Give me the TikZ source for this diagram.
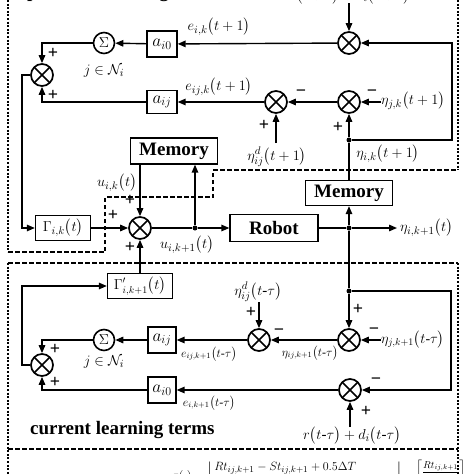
\documentclass[tikz,border=0pt]{standalone}
\usepackage{amsmath}
\usepackage{fontspec}
\setmainfont{Liberation Serif}
\usetikzlibrary{arrows.meta}
\begin{document}
\begin{tikzpicture}[x=1pt,y=-1pt,
 ln/.style={line width=1.4pt},
 arr/.style={line width=1.4pt,-{Triangle[length=8pt,width=6.5pt]}},
 otim/.style={circle,draw,line width=1.7pt,minimum size=22pt,inner sep=0pt,
   path picture={\draw[line width=1.7pt] (path picture bounding box.north west)--(path picture bounding box.south east)
   (path picture bounding box.north east)--(path picture bounding box.south west);}},
 sig/.style={circle,draw,line width=1.6pt,minimum size=21pt,inner sep=0pt,font=\fontsize{15}{18}\selectfont},
 blk/.style={draw,line width=1.3pt,inner sep=0pt,font=\fontsize{17}{20}\selectfont},
 bold/.style={font=\fontsize{19}{22}\selectfont\bfseries,inner sep=0pt},
 lab/.style={font=\fontsize{15}{22}\selectfont,inner sep=0pt},
 slab/.style={font=\fontsize{12}{16}\selectfont,inner sep=0pt},
 sgn/.style={font=\fontsize{18}{18}\selectfont\bfseries,inner sep=0pt},
 dot/.style={circle,fill,inner sep=0pt,minimum size=5pt},
 dsh/.style={line width=1.8pt,dash pattern=on 4.5pt off 2.5pt},
 dtt/.style={line width=2.6pt,dash pattern=on 2pt off 1.6pt},
]
\useasboundingbox (0,0) rectangle (474,474);
\clip (0,0) rectangle (474,474);

% frames
\draw[dtt] (8,0) -- (8,252);
\draw[dtt] (8,263) -- (8,474);
\draw[dtt] (458,0) -- (458,170);
\draw[dtt] (458,263) -- (458,474);
\draw[dsh] (8,252) -- (105,252) -- (105,197) -- (213,197) -- (213,170) -- (458,170);
\draw[dsh] (8,263) -- (458,263);
\draw[dsh] (8,449) -- (458,449);

% top texts (cut by the edge)
\node[bold,anchor=base west] (ptitle) at (27,-3) {previous learning terms};
\node[lab,anchor=base] (rtop) at (350,-1) {$r\bigl(t+1\bigr)+d_i\bigl(t+1\bigr)$};

% upper nodes
\node[otim] (X1) at (349,43) {};
\node[sig] (S1) at (104,43) {$\Sigma$};
\node[blk,minimum width=30pt,minimum height=26pt] (A10) at (162,44) {$a_{i0}$};
\node[otim] (XL1) at (42,75) {};
\node[blk,minimum width=30pt,minimum height=23pt] (Aij1) at (162,102) {$a_{ij}$};
\node[otim] (X2) at (276,102) {};
\node[otim] (X3) at (349,102) {};
\node[dot] (D1) at (349,140) {};
\node[blk,bold,minimum width=87pt,minimum height=25pt] (Mem2) at (349,193) {Memory};
\node[blk,bold,minimum width=87pt,minimum height=26pt] (Mem1) at (174,151) {Memory};
\node[otim] (XU) at (140,228) {};
\node[blk,minimum width=55pt,minimum height=25pt,font=\fontsize{15}{20}\selectfont] (G) at (63,228) {$\Gamma_{i,k}\bigl(t\bigr)$};
\node[blk,bold,minimum width=88pt,minimum height=27pt] (Robot) at (274,228) {Robot};
\node[dot] (D2) at (195,228) {};
\node[dot] (D3) at (349,228) {};
\coordinate (c8) at (397,228);
\node[blk,minimum width=65pt,minimum height=25pt,font=\fontsize{14}{18}\selectfont] (Gp) at (140,286) {$\Gamma'_{i,k+1}\bigl(t\bigr)$};

% lower nodes
\node[otim] (XL2) at (42,365) {};
\node[sig] (S2) at (104,340) {$\Sigma$};
\node[blk,minimum width=28pt,minimum height=26pt] (Aij2) at (162,340) {$a_{ij}$};
\node[blk,minimum width=28pt,minimum height=26pt] (A102) at (162,390) {$a_{i0}$};
\node[otim] (X4) at (259,340) {};
\node[otim] (X5) at (349,340) {};
\node[dot] (D4) at (349,291) {};
\node[otim] (X6) at (350,390) {};

% labels
\node[lab] (le1) at (219,27) {$e_{i,k}\bigl(t+1\bigr)$};
\node[lab] (le2) at (219,87) {$e_{ij,k}\bigl(t+1\bigr)$};
\node[lab] (jn1) at (104,71) {$j\in\mathcal{N}_i$};
\node[lab,anchor=west] (etajk) at (381,101) {$\eta_{j,k}\bigl(t+1\bigr)$};
\node[lab] (etad1) at (277,157) {$\eta^{d}_{ij}\bigl(t+1\bigr)$};
\node[lab] (etaik) at (388,154) {$\eta_{i,k}\bigl(t+1\bigr)$};
\node[lab,anchor=west] (etaout) at (400,228) {$\eta_{i,k+1}\bigl(t\bigr)$};
\node[lab] (uik) at (117,183) {$u_{i,k}\bigl(t\bigr)$};
\node[lab] (uik1) at (187,245) {$u_{i,k+1}\bigl(t\bigr)$};
\node[lab] (etad2) at (258,292) {$\eta^{d}_{ij}\bigl(t\mbox{-}\tau\bigr)$};
\node[lab,anchor=west,font=\fontsize{14}{20}\selectfont] (etajk1) at (381,340) {$\eta_{j,k+1}\bigl(t\mbox{-}\tau\bigr)$};
\node[slab] (etaij1) at (310,353) {$\eta_{ij,k+1}\bigl(t\mbox{-}\tau\bigr)$};
\node[slab] (le3) at (209,354) {$e_{ij,k+1}\bigl(t\mbox{-}\tau\bigr)$};
\node[slab] (le4) at (209,403) {$e_{i,k+1}\bigl(t\mbox{-}\tau\bigr)$};
\node[lab] (jn2) at (104,362) {$j\in\mathcal{N}_i$};
\node[lab] (rbot) at (352,436) {$r\bigl(t\mbox{-}\tau\bigr)+d_i\bigl(t\mbox{-}\tau\bigr)$};
\node[bold,anchor=base west] (ctitle) at (30,434) {current learning terms};

% signs
\node[sgn] (p1) at (53,53) {+};
\node[sgn] (p2) at (53,95) {+};
\node[sgn] (m1) at (372,93) {−};
\node[sgn] (m2) at (301,93) {−};
\node[sgn] (p3) at (264,125) {+};
\node[sgn] (p4) at (338,127) {+};
\node[sgn] (p5) at (130,200) {+};
\node[sgn] (p6) at (113,215) {+};
\node[sgn] (p7) at (130,247) {+};
\node[sgn] (p8) at (358,309) {+};
\node[sgn] (m3) at (374,331) {−};
\node[sgn] (m4) at (279,332) {−};
\node[sgn] (p9) at (251,312) {+};
\node[sgn] (m5) at (376,381) {−};
\node[sgn] (p10) at (366,411) {+};
\node[sgn] (p11) at (55,349) {+};
\node[sgn] (p12) at (55,382) {+};

% coordinates
\coordinate (top1) at (349,3);
\coordinate (c1) at (452,140);
\coordinate (c2) at (452,43);
\coordinate (c3) at (42,43);
\coordinate (c4) at (42,102);
\coordinate (c5) at (22,75);
\coordinate (c6) at (22,228);
\coordinate (c7) at (276,143);
\coordinate (c9) at (451,291);
\coordinate (c10) at (451,390);
\coordinate (c11) at (259,302);
\coordinate (c12) at (350,427);
\coordinate (c13) at (42,340);
\coordinate (c14) at (42,390);
\coordinate (c15) at (22,365);
\coordinate (c16) at (22,286);

% upper connectors
\draw[arr] (top1) -- (X1);
\draw[arr] (D1) -- (c1) -- (c2) -- (X1);
\draw[arr] (X1) -- (A10);
\draw[arr] (A10) -- (S1);
\draw[arr] (S1) -- (c3) -- (XL1);
\draw[arr] (Aij1) -- (c4) -- (XL1);
\draw[arr] (XL1) -- (c5) -- (c6) -- (G);
\draw[arr] (X3 -| etajk.west) -- (X3);
\draw[arr] (X3) -- (X2);
\draw[arr] (X2) -- (Aij1);
\draw[arr] (c7) -- (X2);
\draw[ln] (Mem2) -- (D1);
\draw[arr] (D1) -- (X3);
\draw[arr] (D3) -- (Mem2);
\draw[ln] (Robot) -- (D3);
\draw[arr] (D3) -- (c8);
\draw[arr] (Mem1.south -| XU) -- (XU);
\draw[arr] (G) -- (XU);
\draw[ln] (XU) -- (D2);
\draw[arr] (D2) -- (Robot);
\draw[arr] (D2) -- (Mem1.south -| D2);
\draw[arr] (Gp) -- (XU);

% lower connectors
\draw[ln] (D3) -- (D4);
\draw[arr] (D4) -- (X5);
\draw[arr] (D4) -- (c9) -- (c10) -- (X6);
\draw[arr] (X5 -| etajk1.west) -- (X5);
\draw[arr] (X5) -- (X4);
\draw[arr] (c11) -- (X4);
\draw[arr] (X4) -- (Aij2);
\draw[arr] (X6) -- (A102);
\draw[arr] (c12) -- (X6);
\draw[arr] (Aij2) -- (S2);
\draw[arr] (S2) -- (c13) -- (XL2);
\draw[arr] (A102) -- (c14) -- (XL2);
\draw[arr] (XL2) -- (c15) -- (c16) -- (Gp);

% formula (cut by the lower edge)
\node[font=\fontsize{13}{16}\selectfont,inner sep=0pt,anchor=base east] (flhs) at (204,479) {$\tau(\cdot)=$};
\node[font=\fontsize{13}{16}\selectfont,inner sep=0pt,anchor=base west] (frhs) at (206,479)
  {$\displaystyle\left\lfloor\frac{Rt_{ij,k+1}-St_{ij,k+1}+0.5\Delta T\hspace{38pt}}{\Delta T}\right\rfloor$};
\node[font=\fontsize{10}{12}\selectfont,inner sep=0pt,anchor=base west] (fceil) at (416,475)
  {$\displaystyle\left\lceil\frac{Rt_{ij,k+1}}{\Delta T}\right\rceil$};
\end{tikzpicture}
\end{document}
